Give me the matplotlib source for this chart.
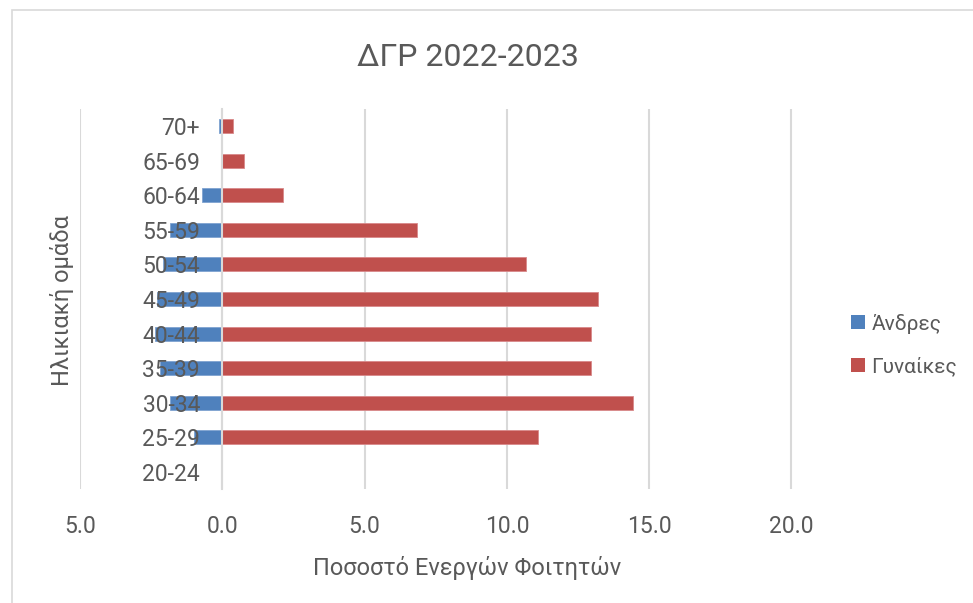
import matplotlib
matplotlib.use("Agg")
import matplotlib.pyplot as plt
from matplotlib.patches import Rectangle, Patch
from matplotlib.ticker import FuncFormatter

plt.rcParams['font.family'] = ['Roboto', 'DejaVu Sans']

age_groups = ["20-24", "25-29", "30-34", "35-39", "40-44", "45-49",
              "50-54", "55-59", "60-64", "65-69", "70+"]
men = [0.0, -1.0, -1.85, -2.2, -2.35, -2.3, -2.1, -1.85, -0.72, 0.0, -0.12]
women = [0.0, 11.09, 14.45, 12.96, 12.96, 13.2, 10.69, 6.83, 2.13, 0.76, 0.37]
x_ticks = [-5, 0, 5, 10, 15, 20]

title = "ΔΓΡ 2022-2023"
xlabel = "Ποσοστό Ενεργών Φοιτητών"
ylabel = "Ηλικιακή ομάδα"
legend_labels = ["Άνδρες", "Γυναίκες"]

blue = "#4F81BD"
red = "#C0504D"
grid_c = "#D9D9D9"
txt_c = "#595959"

W, H = 973, 603
fig = plt.figure(figsize=(W / 100, H / 100), dpi=100)
ax = fig.add_axes([80 / W, 1 - 489.3 / H, (854 - 80) / W, (489.3 - 108.7) / H])

ypos = list(range(len(age_groups)))
ax.barh(ypos, men, height=0.4, color=blue, edgecolor="#7FA3D0", linewidth=0.6, zorder=3)
ax.barh(ypos, women, height=0.4, color=red, edgecolor="#D8898A", linewidth=0.6, zorder=3)

ax.set_xlim(-5, 22.2)
ax.set_ylim(-0.5, len(age_groups) - 0.5)
ax.set_xticks(x_ticks)
ax.xaxis.set_major_formatter(FuncFormatter(lambda v, p: f"{abs(v):.1f}"))
ax.set_yticks(ypos)
ax.set_yticklabels(age_groups)

ax.grid(axis='x', color=grid_c, linewidth=1.5)
ax.xaxis.set_zorder(0.5)
ax.yaxis.set_zorder(5)
for s in ['top', 'right', 'bottom']:
    ax.spines[s].set_visible(False)
ax.spines['left'].set_position(('data', 0))
ax.spines['left'].set_color(grid_c)
ax.spines['left'].set_linewidth(1.5)
ax.spines['left'].set_zorder(4)

ax.tick_params(axis='x', length=0, pad=18.5, labelsize=16.5, labelcolor=txt_c)
ax.tick_params(axis='y', length=0, pad=16, labelsize=16.5, labelcolor=txt_c)

fig.text(468 / W, 1 - 58 / H, title, ha='center', va='center', fontsize=23, color=txt_c)
fig.text(467 / W, 1 - 568 / H, xlabel, ha='center', va='center', fontsize=17, color=txt_c)
fig.text(62 / W, 1 - 300 / H, ylabel, ha='center', va='center', rotation=90, fontsize=17, color=txt_c)

handles = [Patch(facecolor=blue), Patch(facecolor=red)]
fig.legend(handles, legend_labels, loc='center left', bbox_to_anchor=(851 / W, 1 - 345 / H),
           frameon=False, fontsize=15, handlelength=0.67, handleheight=0.67,
           handletextpad=0.3, labelspacing=1.1, borderpad=0, borderaxespad=0,
           labelcolor=txt_c)

fig.patches.append(Rectangle((12 / W, -0.1), 2, 1 - 10 / H + 0.1, transform=fig.transFigure,
                             fill=False, edgecolor=grid_c, linewidth=1.2))

fig.savefig("out.png", dpi=100)
